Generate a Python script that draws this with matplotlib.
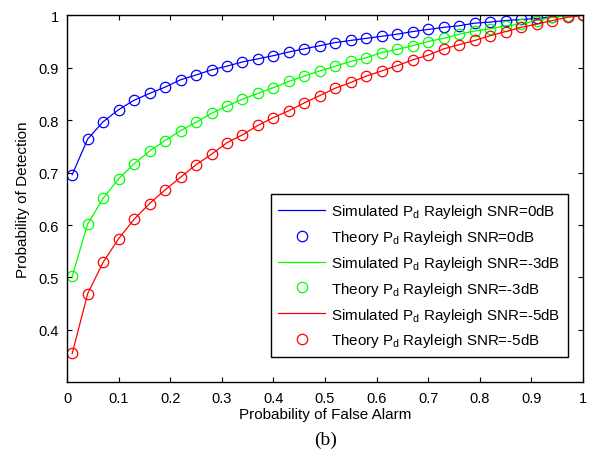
import numpy as np
import matplotlib
matplotlib.use('Agg')
import matplotlib.pyplot as plt

plt.rcParams['font.family'] = ['Liberation Sans', 'DejaVu Sans']
plt.rcParams['mathtext.fontset'] = 'custom'
plt.rcParams['mathtext.rm'] = 'Liberation Sans'
plt.rcParams['mathtext.it'] = 'Liberation Sans:italic'

# Probability of false alarm (0.01:0.03:1)
pfa = [0.01, 0.04, 0.07, 0.10, 0.13, 0.16, 0.19, 0.22, 0.25, 0.28, 0.31, 0.34,
       0.37, 0.40, 0.43, 0.46, 0.49, 0.52, 0.55, 0.58, 0.61, 0.64, 0.67, 0.70,
       0.73, 0.76, 0.79, 0.82, 0.85, 0.88, 0.91, 0.94, 0.97, 1.00]

# Probability of detection
pd_0db = [0.696, 0.764, 0.797, 0.820, 0.838, 0.851, 0.863, 0.877, 0.886, 0.896,
          0.903, 0.911, 0.917, 0.923, 0.930, 0.936, 0.942, 0.948, 0.952, 0.956,
          0.960, 0.964, 0.969, 0.973, 0.977, 0.980, 0.985, 0.987, 0.990, 0.992,
          0.994, 0.997, 0.999, 1.000]
pd_m3db = [0.502, 0.602, 0.651, 0.688, 0.717, 0.741, 0.761, 0.780, 0.796, 0.813,
           0.827, 0.840, 0.851, 0.862, 0.874, 0.884, 0.894, 0.903, 0.912, 0.919,
           0.929, 0.935, 0.942, 0.950, 0.956, 0.964, 0.970, 0.974, 0.980, 0.983,
           0.990, 0.996, 0.999, 1.000]
pd_m5db = [0.355, 0.469, 0.529, 0.574, 0.611, 0.641, 0.667, 0.691, 0.715, 0.735,
           0.757, 0.772, 0.790, 0.805, 0.818, 0.833, 0.847, 0.861, 0.872, 0.884,
           0.894, 0.904, 0.915, 0.924, 0.936, 0.944, 0.952, 0.961, 0.969, 0.977,
           0.983, 0.990, 0.996, 1.000]

snr_labels = ['0dB', '-3dB', '-5dB']
colors = ['#0000ff', '#00ff00', '#ff0000']

fig = plt.figure(figsize=(5.9, 4.6), dpi=100)
ax = fig.add_axes([0.1136, 0.1667, 0.8746, 0.7979])

for pd, snr, c in zip([pd_0db, pd_m3db, pd_m5db], snr_labels, colors):
    ax.plot(pfa, pd, '-', color=c, lw=0.9,
            label=r'Simulated P$_\mathrm{d}$ Rayleigh SNR=' + snr)
    ax.plot(pfa, pd, 'o', color=c, mfc='none', ms=7.5, mew=0.9, ls='none',
            label=r'Theory P$_\mathrm{d}$ Rayleigh SNR=' + snr)

ax.set_xlim(0, 1)
ax.set_ylim(0.3, 1)
ax.set_xticks(np.arange(0, 1.01, 0.1))
ax.set_xticklabels(['0', '0.1', '0.2', '0.3', '0.4', '0.5', '0.6', '0.7', '0.8', '0.9', '1'])
ax.set_yticks([0.4, 0.5, 0.6, 0.7, 0.8, 0.9, 1.0])
ax.set_yticklabels(['0.4', '0.5', '0.6', '0.7', '0.8', '0.9', '1'])
ax.tick_params(direction='in', top=True, right=True, length=3.5, width=0.8,
               labelsize=10.5, pad=6)
for s in ax.spines.values():
    s.set_linewidth(1.0)

ax.set_xlabel('Probability of False Alarm', fontsize=11, labelpad=2)
ax.set_ylabel('Probability of Detection', fontsize=11, labelpad=6)

leg = ax.legend(loc='lower right', bbox_to_anchor=(0.971, 0.069), borderaxespad=0,
                fontsize=10.9, fancybox=False, edgecolor='black', framealpha=1,
                handlelength=3.1, handletextpad=0.4, labelspacing=0.52,
                borderpad=0.5)
leg.get_frame().set_linewidth(1.0)

fig.text(0.551, 0.043, '(b)', ha='center', va='center', fontsize=14,
         family='Liberation Serif')

fig.savefig('out.png', dpi=100)
